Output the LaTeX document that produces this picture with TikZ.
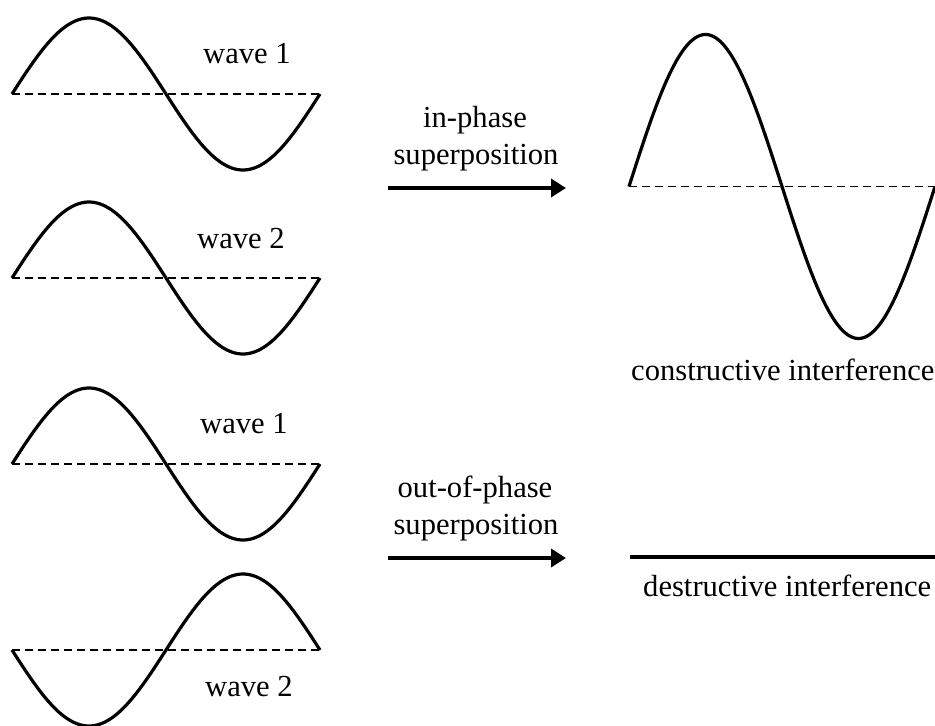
\documentclass[tikz,border=0pt]{standalone}
\usepackage{fontspec}
\setmainfont{Liberation Serif}
\usetikzlibrary{arrows.meta}
\begin{document}
\begin{tikzpicture}[x=1pt,y=-1pt,
  wavecurve/.style={line width=3.2pt, line join=round},
  baseline line/.style={line width=1.8pt, dash pattern=on 8pt off 5pt},
  flatline/.style={line width=3.5pt},
  arr/.style={line width=3.6pt, -{Triangle[length=15pt,width=18pt]}},
  lbl/.style={anchor=base west, inner sep=0pt, font=\fontsize{30.6}{36}\selectfont},
  clbl/.style={anchor=base, inner sep=0pt, font=\fontsize{30.6}{36}\selectfont}]
\useasboundingbox (0,0) rectangle (935,726);
% wave 1 (top)
\coordinate (w1s) at (12,94); \coordinate (w1e) at (320,94);
\draw[baseline line] (w1s) -- (w1e);
\draw[wavecurve] plot[domain=0:308, samples=120] ({12+\x},{94-76*sin(\x/308*360)});
\node[lbl] (l1) at (203,63) {wave 1};
% wave 2
\coordinate (w2s) at (12,278); \coordinate (w2e) at (320,278);
\draw[baseline line] (w2s) -- (w2e);
\draw[wavecurve] plot[domain=0:308, samples=120] ({12+\x},{278-76*sin(\x/308*360)});
\node[lbl] (l2) at (197,248) {wave 2};
% wave 1 (lower)
\coordinate (w3s) at (12,464); \coordinate (w3e) at (320,464);
\draw[baseline line] (w3s) -- (w3e);
\draw[wavecurve] plot[domain=0:308, samples=120] ({12+\x},{464-76*sin(\x/308*360)});
\node[lbl] (l3) at (200,433) {wave 1};
% wave 2 inverted
\coordinate (w4s) at (12,650); \coordinate (w4e) at (320,650);
\draw[baseline line] (w4s) -- (w4e);
\draw[wavecurve] plot[domain=0:308, samples=120] ({12+\x},{650+76*sin(\x/308*360)});
\node[lbl] (l4) at (205,696) {wave 2};
% arrows
\coordinate (a1s) at (388,188); \coordinate (a1e) at (566,188);
\draw[arr] (a1s) -- (a1e);
\node[clbl] (t1a) at (475,127) {in-phase};
\node[clbl] (t1b) at (476,164) {superposition};
\coordinate (a2s) at (388,558); \coordinate (a2e) at (566,558);
\draw[arr] (a2s) -- (a2e);
\node[clbl] (t2a) at (475,497) {out-of-phase};
\node[clbl] (t2b) at (476,534) {superposition};
% constructive
\coordinate (cs) at (629,186.5); \coordinate (ce) at (935,186.5);
\draw[baseline line] (cs) -- (ce);
\draw[wavecurve] plot[domain=0:306, samples=150] ({629+\x},{186.5-152*sin(\x/306*360)});
\node[lbl] (cl) at (631,380) {constructive interference};
% destructive
\coordinate (ds) at (630,557); \coordinate (de) at (935,557);
\draw[flatline] (ds) -- (de);
\node[lbl] (dl) at (643,596) {destructive interference};
\end{tikzpicture}
\end{document}
